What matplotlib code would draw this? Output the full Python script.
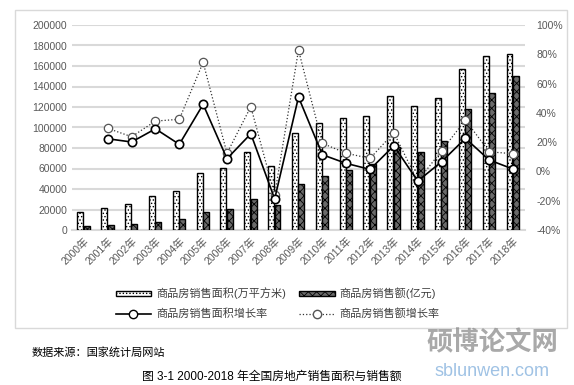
import numpy as np
import matplotlib
matplotlib.use("Agg")
import matplotlib.pyplot as plt
from matplotlib.patches import Rectangle, Patch
from matplotlib.lines import Line2D

plt.rcParams['font.family'] = ['Liberation Sans', 'Noto Sans CJK SC', 'DejaVu Sans']
plt.rcParams['hatch.linewidth'] = 0.6

# data
years = [f"{y}年" for y in range(2000, 2019)]
area = [17300, 21500, 25300, 32700, 38200, 55500, 60800, 76400, 62400, 94300,
        104700, 109400, 111300, 130500, 120600, 128500, 157300, 169400, 171700]
amount = [3900, 4900, 6000, 8000, 10400, 17600, 20800, 29900, 24100, 44600,
          52700, 58600, 64500, 81400, 76300, 87300, 117600, 133700, 150000]
area_growth = [np.nan, 22.3, 20.1, 29.1, 18.5, 45.8, 8.7, 25.7, -18.8, 50.8,
               11.4, 5.5, 1.4, 17.5, -6.6, 6.6, 22.6, 7.8, 1.6]
amount_growth = [np.nan, 29.4, 23.7, 34.4, 35.6, 74.5, 12.4, 44.2, -16.0, 82.9,
                 19.2, 12.4, 8.9, 26.4, -6.6, 14.1, 35.1, 13.4, 12.1]

label_area = "商品房销售面积(万平方米)"
label_amount = "商品房销售额(亿元)"
label_area_g = "商品房销售面积增长率"
label_amount_g = "商品房销售额增长率"

fig = plt.figure(figsize=(5.74, 3.85), dpi=100)
fig.patch.set_facecolor('white')

# chart frame
fig.add_artist(Rectangle((15 / 574, 1 - 328 / 385), 552 / 574, 318 / 385,
                         transform=fig.transFigure, fill=False,
                         edgecolor='#d9d9d9', linewidth=1.0))

ax = fig.add_axes([72 / 574, 1 - 230 / 385, 453 / 574, 205 / 385])
x = np.arange(len(years))
w = 0.25

ax.bar(x - 0.15, area, w, color='white', edgecolor='black', hatch='.....',
       linewidth=1.0, zorder=3)
ax.bar(x + 0.12, amount, w, color='#6a6a6a', edgecolor='black', hatch='xxxx',
       linewidth=1.0, zorder=3)

ax.set_ylim(0, 200000)
ax.set_yticks(np.arange(0, 200001, 20000))
ax.set_xlim(-0.5, len(years) - 0.5)
ax.set_xticks(x)
ax.set_xticklabels(years, rotation=45, ha='right', rotation_mode='anchor')
ax.grid(axis='y', color='#d9d9d9', linewidth=1.5, zorder=0)
ax.set_axisbelow(True)
for s in ['top', 'right', 'left']:
    ax.spines[s].set_visible(False)
ax.spines['bottom'].set_color('#d9d9d9')
ax.spines['bottom'].set_linewidth(1.5)
ax.tick_params(axis='both', length=0, labelsize=7.5, colors='#595959')
ax.tick_params(axis='x', pad=4)

ax2 = ax.twinx()
ax2.plot(x, area_growth, color='black', linewidth=1.2, marker='o',
         markersize=6, markerfacecolor='white', markeredgecolor='black',
         markeredgewidth=1.2, zorder=5)
ax2.plot(x, amount_growth, color='#333333', linewidth=0.9, linestyle=':',
         marker='o', markersize=6, markerfacecolor='white',
         markeredgecolor='#555555', markeredgewidth=0.9, zorder=4)
ax2.set_ylim(-40, 100)
ax2.set_yticks(np.arange(-40, 101, 20))
ax2.set_yticklabels([f"{v}%" for v in range(-40, 101, 20)])
for s in ax2.spines.values():
    s.set_visible(False)
ax2.tick_params(axis='y', length=0, labelsize=7.5, colors='#595959', pad=8)

handles = [
    Patch(facecolor='white', edgecolor='black', hatch='.....', linewidth=1.0,
          label=label_area),
    Line2D([], [], color='black', linewidth=1.2, marker='o', markersize=6,
           markerfacecolor='white', label=label_area_g),
    Patch(facecolor='#6a6a6a', edgecolor='black', hatch='xxxx', linewidth=1.0,
          label=label_amount),
    Line2D([], [], color='#333333', linewidth=0.9, linestyle=':', marker='o',
           markersize=6, markerfacecolor='white', markeredgecolor='#555555',
           label=label_amount_g),
]
fig.legend(handles=handles, ncol=2, loc='upper left',
           bbox_to_anchor=(110 / 574, 1 - 282 / 385), borderpad=0,
           frameon=False, fontsize=8, labelcolor='#404040', handlelength=3.2,
           handleheight=0.35, columnspacing=1.2, handletextpad=0.45,
           labelspacing=0.8)

fig.text(32 / 574, 1 - 352 / 385, "数据来源：国家统计局网站", fontsize=8,
         va='center', ha='left', color='black')
fig.text(272 / 574, 1 - 377 / 385, "图 3-1 2000-2018 年全国房地产销售面积与销售额",
         fontsize=8.5, va='center', ha='center', color='black')

# watermark, kept clear of the legend and caption
fig.text(492 / 574, 1 - 343 / 385, "硕博论文网", fontsize=19, color='#8c8c8c',
         alpha=0.75, ha='center', va='center', fontweight='bold')
fig.text(492 / 574, 1 - 372 / 385, "sblunwen.com", fontsize=13, color='#8fb8e0',
         alpha=0.85, ha='center', va='center')

fig.savefig("out.png", dpi=100)
